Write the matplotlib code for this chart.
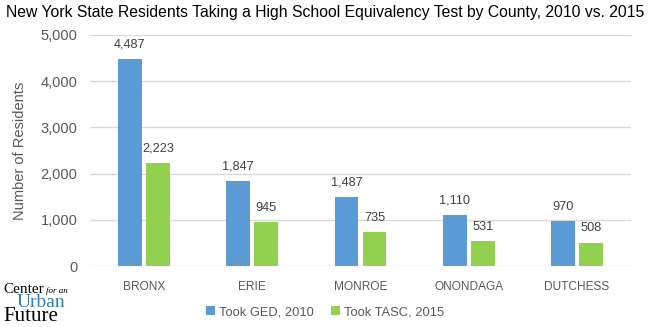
import numpy as np
import matplotlib
matplotlib.use("Agg")
from matplotlib import pyplot as plt

counties = ["BRONX", "ERIE", "MONROE", "ONONDAGA", "DUTCHESS"]
ged_2010 = [4487, 1847, 1487, 1110, 970]
tasc_2015 = [2223, 945, 735, 531, 508]
yticks = [0, 1000, 2000, 3000, 4000, 5000]

BLUE = "#5B9BD5"
GREEN = "#92D050"
GREY_TXT = "#595959"

plt.rcParams['font.family'] = ['Liberation Sans', 'DejaVu Sans']

fig = plt.figure(figsize=(6.5, 3.27), dpi=100)
ax = fig.add_axes([90 / 650, 1 - 266 / 327, (631 - 90) / 650, (266 - 35) / 327])

x = np.arange(len(counties))
w = 0.22
b1 = ax.bar(x - 0.13, ged_2010, w, color=BLUE, label="Took GED, 2010", zorder=3)
b2 = ax.bar(x + 0.13, tasc_2015, w, color=GREEN, label="Took TASC, 2015", zorder=3)

# value labels above each bar
for bars in (b1, b2):
  for r in bars:
    ax.annotate("{:,}".format(int(r.get_height())), (r.get_x() + r.get_width() / 2, r.get_height()),
                xytext=(0, 6), textcoords="offset points", ha="center", va="bottom",
                fontsize=9.2, color="#404040")

ax.set_xlim(-0.5, len(counties) - 0.5)
ax.set_ylim(0, 5000)
ax.set_yticks(yticks)
ax.set_yticklabels(["{:,}".format(v) for v in yticks])
ax.set_xticks(x)
ax.set_xticklabels(counties)
ax.tick_params(axis="both", length=0, colors=GREY_TXT)
ax.tick_params(axis="y", pad=9, labelsize=10.5)
ax.tick_params(axis="x", pad=11, labelsize=8.6)
ax.grid(axis="y", color="#D9D9D9", linewidth=1, zorder=0)
ax.set_axisbelow(True)
for s in ax.spines.values():
  s.set_visible(False)
ax.set_ylabel("Number of Residents", fontsize=10.5, color=GREY_TXT, labelpad=10)

fig.text(0.5, 1 - 13 / 327, "New York State Residents Taking a High School Equivalency Test by County, 2010 vs. 2015",
         ha="center", va="center", fontsize=11.3, color="black")

fig.legend(handles=[b1, b2], loc="center", bbox_to_anchor=(0.5, 1 - 312 / 327), ncol=2, frameon=False,
           fontsize=9.3, handlelength=0.7, handleheight=0.7, handletextpad=0.3, columnspacing=1.3,
           labelcolor=GREY_TXT)

# logo, bottom left (the words sit tight together, as in the original mark)
fig.text(3 / 650, 1 - 293 / 327, "Center", fontsize=11, family="Liberation Serif", color="black", va="baseline")
fig.text(46 / 650, 1 - 293 / 327, "for an", fontsize=6.5, family="Liberation Serif", style="italic",
         color="black", va="baseline")
fig.text(17 / 650, 1 - 307 / 327, "Urban", fontsize=14, family="Liberation Serif", color="#2F7DB0", va="baseline")
fig.text(3 / 650, 1 - 321 / 327, "Future", fontsize=15, family="Liberation Serif", color="black", va="baseline")

fig.savefig("out.png", dpi=100)
